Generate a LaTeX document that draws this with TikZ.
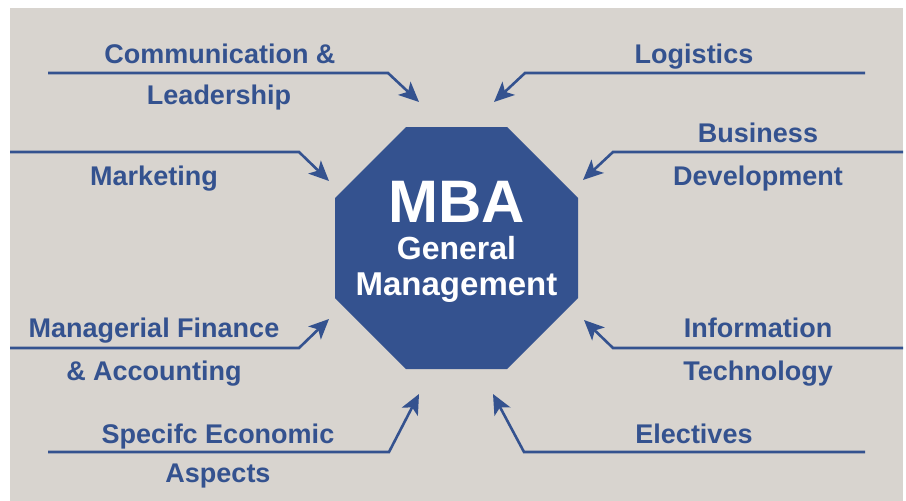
\documentclass[tikz,border=0pt]{standalone}
\usepackage{fontspec}
\setmainfont{Liberation Sans}
\usetikzlibrary{arrows.meta}
\definecolor{mbablue}{HTML}{34528F}
\definecolor{bggrey}{HTML}{D8D4CF}
\begin{document}
\begin{tikzpicture}[x=1pt,y=-1pt,
  lbl/.style={text=mbablue,font=\fontsize{27}{30}\selectfont\bfseries,anchor=base,inner sep=0pt},
  conn/.style={draw=mbablue,line width=2.6pt,-{Stealth[length=20pt,width=18pt,inset=5pt]}},
  hub/.style={fill=mbablue,draw=none}]
\fill[white] (0,0) rectangle (906,501);
\useasboundingbox (0,0) rectangle (906,501);
\fill[bggrey] (10,8) rectangle (903,501);
% octagon
\fill[hub] (406,127) -- (507,127) -- (578,198) -- (578,298) -- (507,369) -- (406,369) -- (335,298) -- (335,198) -- cycle;
\node[anchor=base,text=white,inner sep=0pt,font=\fontsize{60}{62}\selectfont\bfseries] (mba) at (456.5,222) {MBA};
\node[anchor=base,text=white,inner sep=0pt,font=\fontsize{32}{34}\selectfont\bfseries] (gen) at (456.5,259) {General};
\node[anchor=base,text=white,inner sep=0pt,font=\fontsize{33}{34}\selectfont\bfseries] (mgmt) at (456.5,295) {Management};
% labels
\node[lbl] (comm1) at (220,63) {Communication \&};
\node[lbl] (comm2) at (219,104) {Leadership};
\node[lbl] (logi) at (694,63) {Logistics};
\node[lbl] (mark) at (154,185) {Marketing};
\node[lbl] (bus1) at (758,142) {Business};
\node[lbl] (bus2) at (758,185) {Development};
\node[lbl] (fin1) at (154,337) {Managerial Finance};
\node[lbl] (fin2) at (154,380) {\& Accounting};
\node[lbl] (it1) at (758,337) {Information};
\node[lbl] (it2) at (758,380) {Technology};
\node[lbl] (eco1) at (218,443) {Specifc Economic};
\node[lbl] (eco2) at (218,482) {Aspects};
\node[lbl] (elec) at (694,443) {Electives};
% connector coordinates
\coordinate (s1) at (48,73);  \coordinate (c1) at (388,73);  \coordinate (t1) at (419,102);
\coordinate (s2) at (865,73); \coordinate (c2) at (525,73);  \coordinate (t2) at (494,102);
\coordinate (s3) at (10,152); \coordinate (c3) at (299,152); \coordinate (t3) at (329,181);
\coordinate (s4) at (903,152);\coordinate (c4) at (613,152); \coordinate (t4) at (583,180);
\coordinate (s5) at (10,348); \coordinate (c5) at (299,348); \coordinate (t5) at (329,319);
\coordinate (s6) at (903,348);\coordinate (c6) at (613,348); \coordinate (t6) at (584,320);
\coordinate (s7) at (48,452); \coordinate (c7) at (389,452); \coordinate (t7) at (419,394);
\coordinate (s8) at (865,452);\coordinate (c8) at (524,452); \coordinate (t8) at (493,394);
\foreach \i in {1,...,8} {\draw[conn] (s\i) -- (c\i) -- (t\i);}
\end{tikzpicture}
\end{document}
